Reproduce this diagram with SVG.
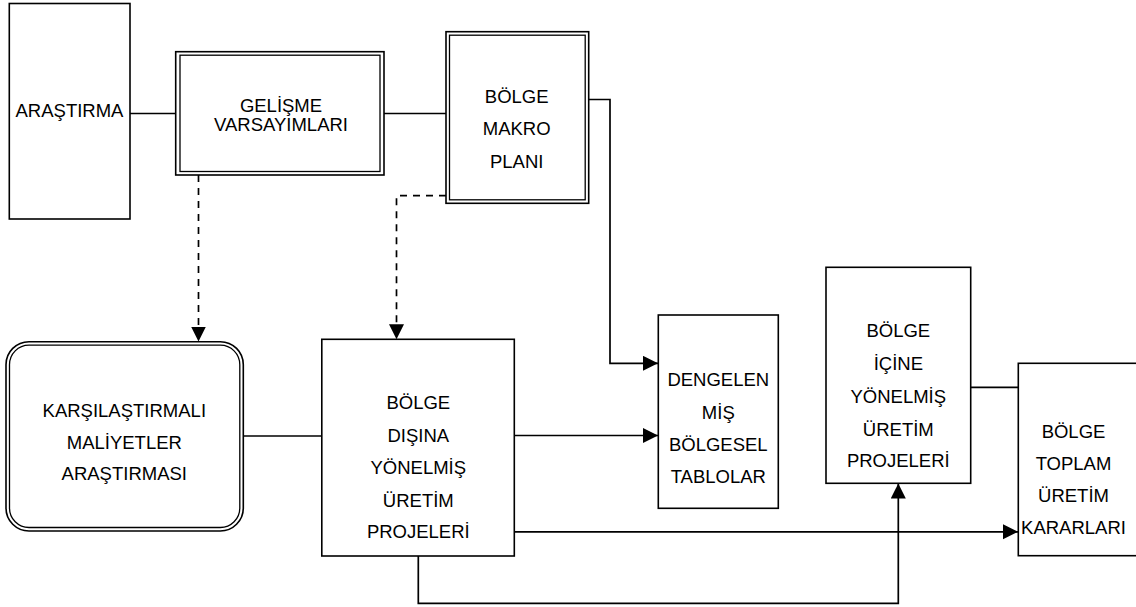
<svg xmlns="http://www.w3.org/2000/svg" width="1136" height="607" viewBox="0 0 1136 607">
<style>
.box{fill:#fff;stroke:#000;stroke-width:1.6}
.dbl{fill:none;stroke:#000;stroke-width:1.3}
.t{font-family:"Liberation Sans",Arial,sans-serif;font-size:18.5px;fill:#000;text-anchor:middle}
.ln{fill:none;stroke:#000;stroke-width:1.7}
.dash{fill:none;stroke:#000;stroke-width:1.7;stroke-dasharray:7 6}
</style>
<defs>
<marker id="arr" markerUnits="userSpaceOnUse" markerWidth="16" markerHeight="16" refX="15" refY="7.5" orient="auto">
<path d="M0,0 L15,7.5 L0,15 Z" fill="#000"/>
</marker>
</defs>
<rect width="1136" height="607" fill="#fff"/>
<g id="connectors">
<path class="ln" d="M130,113.5 H176"/>
<path class="ln" d="M384,113.5 H446"/>
<path class="ln" d="M588.5,99.5 H610 V363.3 H658" marker-end="url(#arr)"/>
<path class="dash" d="M198.5,175 V341.5" marker-end="url(#arr)"/>
<path class="dash" d="M446,195.7 H396.5 V339.3" marker-end="url(#arr)"/>
<path class="ln" d="M243,436 H322"/>
<path class="ln" d="M514,435.5 H658" marker-end="url(#arr)"/>
<path class="ln" d="M514,531.8 H1018" marker-end="url(#arr)"/>
<path class="ln" d="M418.3,556 V603.3 H898.3 V483.5" marker-end="url(#arr)"/>
<path class="ln" d="M970.7,387.3 H1018"/>
</g>
<g id="arastirma">
<rect class="box" x="9.3" y="3.5" width="120.7" height="215.5"/>
<text class="t" x="69.5" y="116.5">ARAŞTIRMA</text>
</g>
<g id="gelisme">
<rect class="box" x="175.7" y="51.7" width="208.3" height="123.3"/>
<rect class="dbl" x="180" y="55.2" width="200" height="116.3"/>
<text class="t" x="281" y="111.7">GELİŞME</text>
<text class="t" x="281" y="131.2">VARSAYIMLARI</text>
</g>
<g id="makro">
<rect class="box" x="446" y="31.7" width="142.7" height="171.6"/>
<rect class="dbl" x="449.5" y="35.2" width="135.7" height="164.6"/>
<text class="t" x="516.7" y="102.7">BÖLGE</text>
<text class="t" x="516.7" y="135">MAKRO</text>
<text class="t" x="516.7" y="167.7">PLANI</text>
</g>
<g id="karsilastirmali">
<rect class="box" x="6" y="341.7" width="237.3" height="189.3" rx="23" ry="23"/>
<rect class="dbl" x="9.5" y="345.2" width="230.3" height="182.3" rx="19.5" ry="19.5"/>
<text class="t" x="124.3" y="417.3">KARŞILAŞTIRMALI</text>
<text class="t" x="124.3" y="448.6">MALİYETLER</text>
<text class="t" x="124.3" y="480">ARAŞTIRMASI</text>
</g>
<g id="disina">
<rect class="box" x="321.8" y="339.3" width="192.5" height="216.7"/>
<text class="t" x="418.3" y="409.3">BÖLGE</text>
<text class="t" x="418.3" y="442">DIŞINA</text>
<text class="t" x="418.3" y="474.3">YÖNELMİŞ</text>
<text class="t" x="418.3" y="506.7">ÜRETİM</text>
<text class="t" x="418.3" y="538.3">PROJELERİ</text>
</g>
<g id="dengelen">
<rect class="box" x="658.3" y="315" width="120" height="193.3"/>
<text class="t" x="718.3" y="386">DENGELEN</text>
<text class="t" x="718.3" y="418.5">MİŞ</text>
<text class="t" x="718.3" y="451.2">BÖLGESEL</text>
<text class="t" x="718.3" y="482.7">TABLOLAR</text>
</g>
<g id="icine">
<rect class="box" x="826" y="267.3" width="144.7" height="216"/>
<text class="t" x="898.3" y="337.3">BÖLGE</text>
<text class="t" x="898.3" y="370.3">İÇİNE</text>
<text class="t" x="898.3" y="403">YÖNELMİŞ</text>
<text class="t" x="898.3" y="436">ÜRETİM</text>
<text class="t" x="898.3" y="467.3">PROJELERİ</text>
</g>
<g id="toplam">
<rect class="box" x="1018.3" y="363.3" width="125" height="192.4"/>
<text class="t" x="1073.5" y="438.3">BÖLGE</text>
<text class="t" x="1073.5" y="470">TOPLAM</text>
<text class="t" x="1073.5" y="502.3">ÜRETİM</text>
<text class="t" x="1073.5" y="534.3">KARARLARI</text>
</g>
</svg>
